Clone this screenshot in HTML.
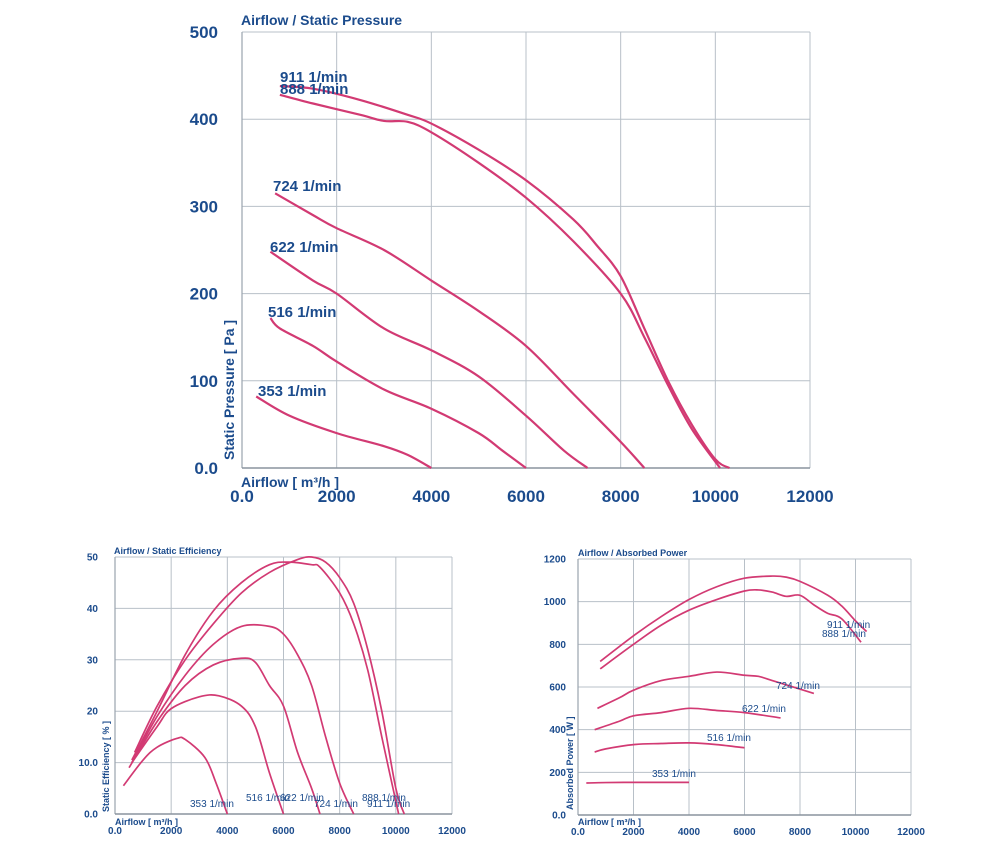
<!DOCTYPE html>
<html><head><meta charset="utf-8"><style>
html,body{margin:0;padding:0;background:#fff;}
svg{display:block;font-family:"Liberation Sans",Arial,sans-serif;}
</style></head><body>
<svg id="s" width="1000" height="858" viewBox="0 0 1000 858" xmlns="http://www.w3.org/2000/svg">
<g id="g"></g>
<text x="241" y="25" font-size="14" font-weight="bold" fill="#1b4b8c">Airflow / Static Pressure</text>
<text x="241" y="487" font-size="14" font-weight="bold" fill="#1b4b8c">Airflow [ m³/h ]</text>
<text transform="translate(234,460) rotate(-90)" font-size="14" font-weight="bold" fill="#1b4b8c">Static Pressure [ Pa ]</text>
<text x="114" y="554" font-size="9" font-weight="bold" fill="#1b4b8c">Airflow / Static Efficiency</text>
<text x="115" y="825" font-size="9" font-weight="bold" fill="#1b4b8c">Airflow [ m³/h ]</text>
<text transform="translate(109,812) rotate(-90)" font-size="9" font-weight="bold" fill="#1b4b8c">Static Efficiency [ % ]</text>
<text x="578" y="556" font-size="9" font-weight="bold" fill="#1b4b8c">Airflow / Absorbed Power</text>
<text x="578" y="825" font-size="9" font-weight="bold" fill="#1b4b8c">Airflow [ m³/h ]</text>
<text transform="translate(573,810) rotate(-90)" font-size="9" font-weight="bold" fill="#1b4b8c">Absorbed Power [ W ]</text>
</svg>
<script>
var NS="http://www.w3.org/2000/svg",G=document.getElementById('g');
function el(t,a,txt){var e=document.createElementNS(NS,t);for(var k in a)e.setAttribute(k,a[k]);if(txt!=null)e.textContent=txt;G.appendChild(e);return e;}
function chart(c){
 var X=function(v){return c.x0+(c.x1-c.x0)*v/12000},Y=function(v){return c.y0-(c.y0-c.y1)*v/c.ymax};
 for(var i=1;i<=6;i++)el('line',{x1:X(i*2000),x2:X(i*2000),y1:c.y1,y2:c.y0,stroke:'#b8c0c8','stroke-width':1});
 for(var j=1;j<=c.ny;j++){var v=c.ymax*j/c.ny;el('line',{x1:c.x0,x2:c.x1,y1:Y(v),y2:Y(v),stroke:'#b8c0c8','stroke-width':1});}
 el('line',{x1:c.x0,x2:c.x0,y1:c.y1,y2:c.y0,stroke:'#9aa4ae','stroke-width':1.2});
 el('line',{x1:c.x0,x2:c.x1,y1:c.y0,y2:c.y0,stroke:'#8a949e','stroke-width':1.5});
 for(var i=0;i<=6;i++)el('text',{x:X(i*2000),y:c.y0+c.tx,'font-size':c.fs,'font-weight':'bold',fill:'#1b4b8c','text-anchor':'middle'},i==0?'0.0':String(i*2000));
 for(var j=0;j<=c.ny;j++){var v=c.ymax*j/c.ny;el('text',{x:c.x0-c.ty,y:Y(v)+c.fs*0.35,'font-size':c.fs,'font-weight':'bold',fill:'#1b4b8c','text-anchor':'end'},j==0?'0.0':(c.lab?c.lab[j]:String(v)));}
 c.curves.forEach(function(p){
  var P=p.map(function(q){return[X(q[0]),Y(q[1])]}),d='M'+P[0][0]+','+P[0][1];
  for(var i=0;i<P.length-1;i++){var a=P[i-1]||P[i],b=P[i],e=P[i+1],f=P[i+2]||e;
   d+='C'+(b[0]+(e[0]-a[0])/6)+','+(b[1]+(e[1]-a[1])/6)+' '+(e[0]-(f[0]-b[0])/6)+','+(e[1]-(f[1]-b[1])/6)+' '+e[0]+','+e[1];}
  el('path',{d:d,fill:'none',stroke:'#d23a73','stroke-width':c.sw});
 });
 c.labels.forEach(function(l){el('text',{x:l[0],y:l[1],'font-size':c.lf,'font-weight':c.lw||'normal',fill:'#1b4b8c'},l[2]);});
}
chart({x0:242,x1:810,y0:468,y1:32,ymax:500,ny:5,fs:17,tx:34,ty:24,sw:2.2,lf:15,lw:'bold',
curves:[
[[800,438],[1500,435],[2500,422],[3500,405],[4000,395],[5000,365],[6000,330],[7000,285],[7500,255],[8000,220],[8500,160],[9000,100],[9500,50],[10000,10],[10300,0]],
[[800,428],[1500,418],[2500,405],[3000,398],[3500,397],[4000,385],[5000,350],[6000,310],[7000,260],[8000,200],[8500,150],[9000,95],[9500,45],[10100,0]],
[[700,315],[1500,290],[2000,275],[3000,250],[4000,215],[5000,180],[6000,140],[7000,85],[8000,30],[8500,0]],
[[600,248],[1500,215],[2000,200],[3000,160],[4000,135],[5000,105],[6000,60],[6800,20],[7300,0]],
[[600,172],[800,160],[1500,140],[2000,122],[3000,90],[4000,68],[5000,40],[5500,20],[6000,0]],
[[300,82],[1000,60],[2000,40],[3000,25],[3500,15],[4000,0]]],
labels:[[280,82,'911 1/min'],[280,94,'888 1/min'],[273,191,'724 1/min'],[270,252,'622 1/min'],[268,317,'516 1/min'],[258,396,'353 1/min']]});
chart({x0:115,x1:452,y0:814,y1:557,ymax:50,ny:5,fs:10,tx:20,ty:17,sw:1.7,lf:10,lab:['0.0','10.0','20','30','40','50'],
curves:[
[[700,12],[1500,21],[2500,30],[3500,37],[4500,43],[5500,47],[6500,49.5],[7000,50],[7500,49],[8000,46],[8500,41],[9000,32],[9500,20],[10000,5],[10300,0]],
[[600,10.5],[1500,20],[2500,31],[3500,39.5],[4500,45],[5500,48.5],[6200,49],[7000,48.5],[7300,48],[8000,43],[8500,37],[9000,28],[9500,15],[10100,0]],
[[600,10],[1500,19],[2500,27],[3500,33],[4500,36.5],[5500,36.5],[6000,35],[6500,31],[7000,25],[7500,15],[8000,6],[8500,0]],
[[500,9],[1500,18],[2500,25],[3500,29],[4500,30.3],[5000,29.5],[5500,25],[6000,21],[6500,12],[7000,5],[7300,0]],
[[600,10],[1500,17],[2000,20.5],[3000,22.8],[3700,23],[4500,21],[5000,17],[5500,8],[6000,0]],
[[300,5.5],[1000,10.5],[1500,13],[2200,14.7],[2500,14.5],[3200,11],[3600,6],[4000,0]]],
labels:[[190,807,'353 1/min'],[246,801,'516 1/min'],[280,801,'622 1/min'],[314,807,'724 1/min'],[362,801,'888 1/min'],[367,807,'911 1/min']]});
chart({x0:578,x1:911,y0:815,y1:559,ymax:1200,ny:6,fs:10,tx:20,ty:12,sw:1.7,lf:10,
curves:[
[[800,720],[2000,840],[3000,930],[4000,1010],[5000,1070],[6000,1110],[7000,1120],[7500,1115],[8000,1095],[9000,1030],[9500,980],[10000,910],[10400,860]],
[[800,685],[2000,800],[3000,890],[4000,960],[5000,1010],[6000,1050],[6500,1055],[7000,1045],[7500,1025],[8000,1030],[8500,985],[9000,945],[9500,920],[10200,810]],
[[700,500],[1500,550],[2000,585],[3000,630],[4000,650],[5000,670],[6000,655],[6500,650],[7000,630],[7500,610],[8500,570]],
[[600,400],[1500,440],[2000,465],[3000,480],[4000,500],[5000,490],[6000,480],[7300,455]],
[[600,295],[1000,310],[2000,330],[3000,335],[4000,338],[5000,330],[6000,315]],
[[300,150],[1000,152],[2000,153],[3000,153],[4000,153]]],
labels:[[827,628,'911 1/min'],[822,637,'888 1/min'],[776,689,'724 1/min'],[742,712,'622 1/min'],[707,741,'516 1/min'],[652,777,'353 1/min']]});
</script>
</body></html>
